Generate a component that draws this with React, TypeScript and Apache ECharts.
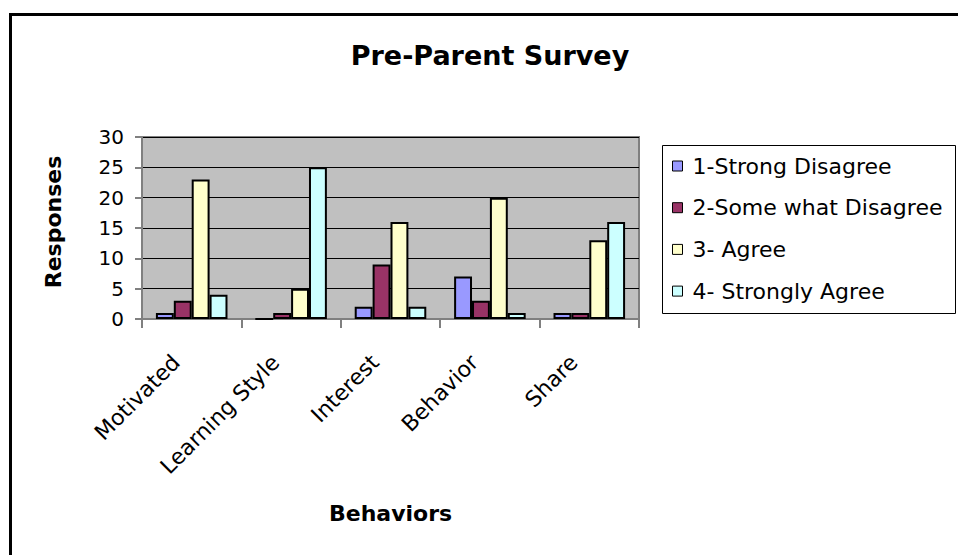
import React, { useEffect, useRef } from "react";
import * as echarts from "echarts";

const categories = ["Motivated", "Learning Style", "Interest", "Behavior", "Share"];
const seriesNames = ["1-Strong Disagree", "2-Some what Disagree", "3- Agree", "4- Strongly Agree"];
const strongDisagree = [1, 0, 2, 7, 1];
const someDisagree = [3, 1, 9, 3, 1];
const agree = [23, 5, 16, 20, 13];
const stronglyAgree = [4, 25, 2, 1, 16];
const colors = ["#9999FF", "#993366", "#FFFFCC", "#CCFFFF"];
const yTicks = [0, 5, 10, 15, 20, 25, 30];

const FONT = "'DejaVu Sans', 'Liberation Sans', Arial, sans-serif";

export default function App() {
  const ref = useRef<HTMLDivElement>(null);
  useEffect(() => {
    if (!ref.current) return;
    const chart = echarts.init(ref.current, null, { renderer: "svg" });
    const values = [strongDisagree, someDisagree, agree, stronglyAgree];
    chart.setOption({
      animation: false,
      backgroundColor: "#fff",
      textStyle: { fontFamily: FONT },
      title: {
        text: "Pre-Parent Survey",
        left: 485,
        textAlign: "center",
        top: 37,
        textStyle: { fontFamily: FONT, fontSize: 27, fontWeight: "bold", color: "#000" },
      },
      legend: {
        orient: "vertical",
        left: 672,
        top: 155,
        padding: 0,
        itemWidth: 10,
        itemHeight: 10,
        itemGap: 19.7,
        icon: "rect",
        data: seriesNames,
        textStyle: { fontFamily: FONT, fontSize: 22, color: "#000", lineHeight: 22, padding: [0, 0, 0, 5] },
        itemStyle: { borderColor: "#000", borderWidth: 1 },
      },
      grid: { left: 142, top: 137, right: 319, bottom: 236, show: true, backgroundColor: "#C0C0C0", borderColor: "#808080", borderWidth: 2 },
      xAxis: {
        type: "category",
        data: categories,
        name: "Behaviors",
        nameLocation: "middle",
        nameGap: 183,
        nameTextStyle: { fontFamily: FONT, fontSize: 22, fontWeight: "bold", color: "#000" },
        axisLine: { lineStyle: { color: "#808080", width: 2 } },
        axisTick: { show: true, length: 9, lineStyle: { color: "#808080", width: 2 } },
        axisLabel: { rotate: 45, fontFamily: FONT, fontSize: 22, color: "#000", margin: 24, interval: 0, padding: [0, 22, 0, 0] },
      },
      yAxis: {
        type: "value",
        min: yTicks[0],
        max: yTicks[yTicks.length - 1],
        interval: 5,
        name: "Responses",
        nameLocation: "middle",
        nameGap: 78,
        nameTextStyle: { fontFamily: FONT, fontSize: 22, fontWeight: "bold", color: "#000", padding: [0, 0, 0, 12] },
        axisLine: { show: true, lineStyle: { color: "#808080", width: 2 } },
        axisTick: { show: true, length: 7, lineStyle: { color: "#808080", width: 2 } },
        axisLabel: { fontFamily: FONT, fontSize: 20, color: "#000", margin: 18 },
        splitLine: { show: true, lineStyle: { color: "#000", width: 1 } },
      },
      series: seriesNames.map((name, i) => ({
        name,
        type: "bar",
        data: values[i],
        barGap: "0%",
        barCategoryGap: "28%",
        itemStyle: { color: colors[i], borderColor: "#000", borderWidth: 2 },
      })),
      graphic: [
        {
          type: "rect",
          shape: { x: 10.5, y: 14.5, width: 1000, height: 600 },
          style: { fill: "none", stroke: "#000", lineWidth: 3 },
          silent: true,
        },
        {
          type: "rect",
          shape: { x: 662.5, y: 145.5, width: 293, height: 168 },
          style: { fill: "none", stroke: "#000", lineWidth: 1 },
          silent: true,
        },
      ],
    });
    return () => chart.dispose();
  }, []);
  return <div ref={ref} style={{ position: "absolute", left: 0, top: 0, width: 958, height: 555 }} />;
}
